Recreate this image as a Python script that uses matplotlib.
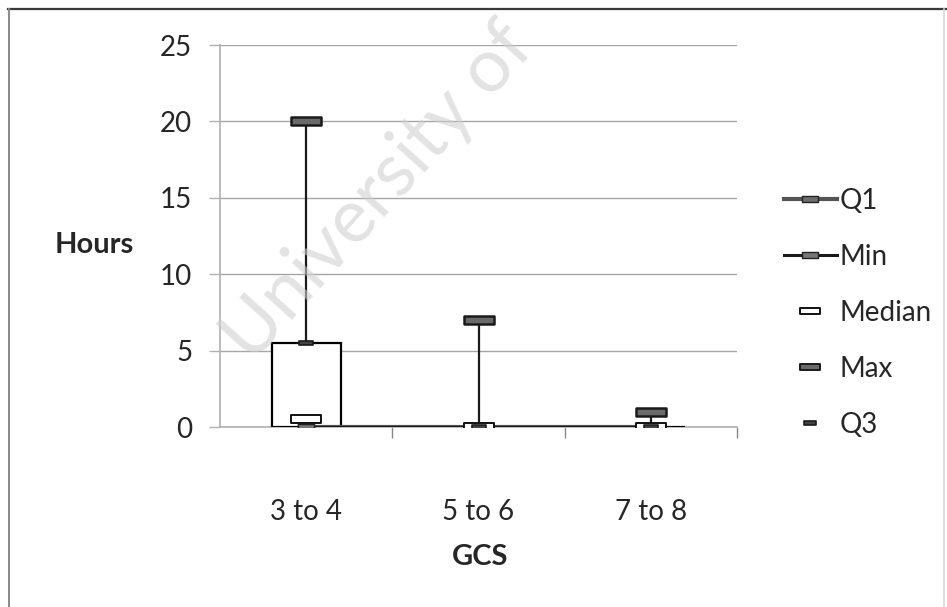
import matplotlib
matplotlib.use("Agg")
import matplotlib.pyplot as plt
from matplotlib.path import Path
from matplotlib.lines import Line2D
import numpy as np

plt.rcParams['font.family'] = ['Lato', 'DejaVu Sans']

categories = ["3 to 4", "5 to 6", "7 to 8"]
q1 = [0, 0, 0]
mins = [0, 0, 0]
median = [0.5, 0, 0]
maxs = [20, 7, 1]
q3 = [5.5, 0, 0]

TXT = '#262626'
GRID = '#a6a6a6'
FS = 20


def rect_marker(ratio):
  # flat rectangle used as a point marker
  h = ratio
  return Path([(-1, -h), (1, -h), (1, h), (-1, h), (-1, -h)],
              [Path.MOVETO, Path.LINETO, Path.LINETO, Path.LINETO, Path.CLOSEPOLY])


wide = rect_marker(0.25)
small = rect_marker(0.35)

fig = plt.figure(figsize=(9.47, 6.07), dpi=100)
ax = fig.add_axes([220 / 947, 1 - 427 / 607, 517 / 947, 382 / 607])

x = np.arange(len(categories))

# box between Q1 and Q3
ax.bar(x, np.array(q3) - np.array(q1), bottom=q1, width=0.4,
       facecolor='white', edgecolor='black', linewidth=1.6, zorder=4)

# whisker from min to max
ax.vlines(x, mins, maxs, color='#1a1a1a', linewidth=1.6, zorder=3)

# series lines / markers
ax.plot(x, q1, color='#555555', linewidth=3, marker=small, markersize=12,
        markerfacecolor='#6e6e6e', markeredgecolor='#222222', zorder=5, label='Q1')
ax.plot(x, mins, color='#1a1a1a', linewidth=2.2, marker=small, markersize=12,
        markerfacecolor='#777777', markeredgecolor='#222222', zorder=5, label='Min')
ax.plot(x, median, linestyle='none', marker=wide, markersize=21,
        markerfacecolor='white', markeredgecolor='#111111', markeredgewidth=1.4,
        zorder=6, label='Median')
ax.plot(x, maxs, linestyle='none', marker=wide, markersize=21,
        markerfacecolor='#6a6a6a', markeredgecolor='#1a1a1a', markeredgewidth=1.8,
        zorder=6, label='Max')
ax.plot(x, q3, linestyle='none', marker=small, markersize=10,
        markerfacecolor='#444444', markeredgecolor='#1a1a1a', markeredgewidth=1.2,
        zorder=7, label='Q3')

ax.set_xlim(-0.5, 2.5)
ax.set_ylim(0, 25)
ax.set_yticks([0, 5, 10, 15, 20, 25])
ax.set_xticks(x)
ax.set_xticklabels(categories)
ax.set_xticks([0.5, 1.5, 2.5], minor=True)

ax.grid(axis='y', color=GRID, linewidth=1.0, zorder=0)
ax.set_axisbelow(True)
for s in ['top', 'right']:
  ax.spines[s].set_visible(False)
ax.spines['left'].set_color('#b0b0b0')
ax.spines['bottom'].set_color('#b0b0b0')
ax.spines['left'].set_linewidth(1.2)
ax.spines['bottom'].set_linewidth(1.2)

ax.tick_params(axis='y', direction='out', length=8, width=1, color='#b0b0b0',
               labelsize=FS, labelcolor=TXT, pad=12)
ax.tick_params(axis='x', which='major', length=0, labelsize=FS, labelcolor=TXT, pad=52)
ax.tick_params(axis='x', which='minor', direction='out', length=8, width=1, color='#888888')

fig.text(94 / 947, 1 - 245 / 607, 'Hours', ha='center', va='center',
         fontsize=FS + 1, fontweight='bold', color=TXT)
fig.text(480 / 947, 1 - 557 / 607, 'GCS', ha='center', va='center',
         fontsize=FS + 1, fontweight='bold', color=TXT)

handles = [
  Line2D([], [], color='#555555', linewidth=3, marker=small, markersize=12,
         markerfacecolor='#6e6e6e', markeredgecolor='#222222'),
  Line2D([], [], color='#1a1a1a', linewidth=2.2, marker=small, markersize=12,
         markerfacecolor='#777777', markeredgecolor='#222222'),
  Line2D([], [], linestyle='none', marker=wide, markersize=15,
         markerfacecolor='white', markeredgecolor='#111111', markeredgewidth=1.4),
  Line2D([], [], linestyle='none', marker=wide, markersize=15,
         markerfacecolor='#6a6a6a', markeredgecolor='#1a1a1a', markeredgewidth=1.4),
  Line2D([], [], linestyle='none', marker=small, markersize=9,
         markerfacecolor='#444444', markeredgecolor='#1a1a1a', markeredgewidth=1.2),
]
leg = fig.legend(handles, ['Q1', 'Min', 'Median', 'Max', 'Q3'],
                 loc='center left', bbox_to_anchor=(770 / 947, 1 - 313 / 607),
                 frameon=False, fontsize=FS, handlelength=1.9, handletextpad=0.1,
                 labelspacing=1.08, borderpad=0)
for t in leg.get_texts():
  t.set_color(TXT)

# chart frame: top, left and right edges
fig.add_artist(Line2D([8 / 947, 1], [1 - 9 / 607, 1 - 9 / 607],
                      transform=fig.transFigure, color='#3a3a3a', linewidth=1.6))
fig.add_artist(Line2D([9 / 947, 9 / 947], [0, 1 - 9 / 607],
                      transform=fig.transFigure, color='#8a8a8a', linewidth=1.4))
fig.add_artist(Line2D([944 / 947, 944 / 947], [0, 1 - 9 / 607],
                      transform=fig.transFigure, color='#d8d8d8', linewidth=1.2))

# watermark
fig.text(252 / 947, 1 - 364 / 607, 'University of', rotation=48,
         rotation_mode='anchor', ha='left', va='baseline', fontsize=54,
         color='#d0d0d0', alpha=0.6, zorder=10)

fig.savefig('out.png', dpi=100)
